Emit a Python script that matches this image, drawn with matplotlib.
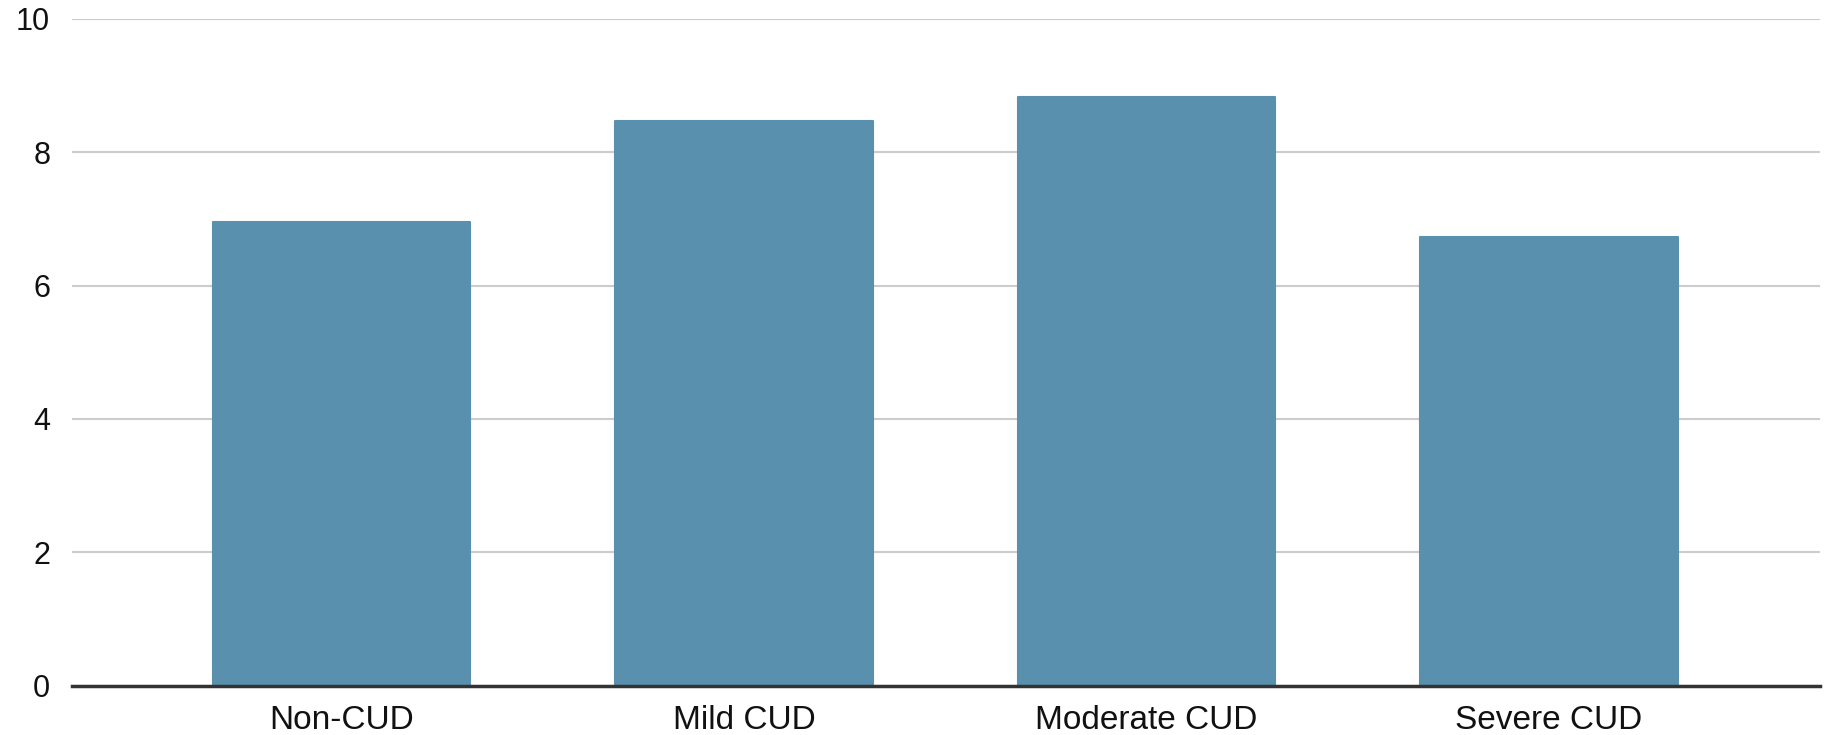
import numpy as np
import matplotlib
matplotlib.use('Agg')
import matplotlib.pyplot as plt

categories = ['Non-CUD', 'Mild CUD', 'Moderate CUD', 'Severe CUD']
values = [6.95, 8.46, 8.83, 6.73]
y_ticks = [0, 2, 4, 6, 8, 10]

plt.rcParams['font.family'] = ['Liberation Sans', 'DejaVu Sans']

fig = plt.figure(figsize=(18.34, 7.35), dpi=100)
ax = fig.add_axes([0.0395, 0.0667, 0.9529, 0.9081])

x = np.arange(len(categories))
ax.bar(x, values, width=0.64, color='#5990ae', edgecolor='#5990ae',
       linewidth=1.5, joinstyle='round', zorder=3)

ax.set_xlim(-0.669, 3.674)
ax.set_ylim(0, 10)
ax.set_yticks(y_ticks)
ax.set_yticklabels([str(t) for t in y_ticks])
ax.set_xticks(x)
ax.set_xticklabels(categories)

# grid lines, no frame
ax.grid(axis='y', color='#cccccc', linewidth=1.5, zorder=0)
for s in ax.spines.values():
    s.set_visible(False)
ax.axhline(0, color='#333333', linewidth=2.5, zorder=4, clip_on=False)

ax.tick_params(axis='y', length=0, pad=16, labelsize=22, labelcolor='#111111')
ax.tick_params(axis='x', length=0, pad=14, labelsize=24, labelcolor='#111111')

fig.savefig('out.png', dpi=100)
